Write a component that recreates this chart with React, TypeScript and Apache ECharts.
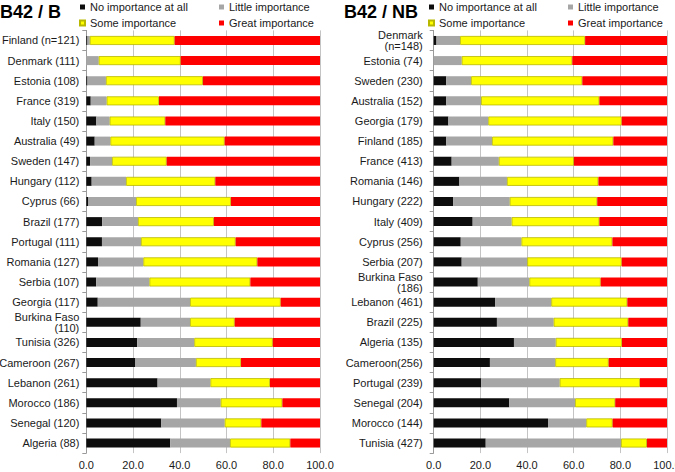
import React, { useEffect, useRef } from "react";
import * as echarts from "echarts";

const seriesNames = ["No importance at all", "Little importance", "Some importance", "Great importance"];
const colors = ["#0d0d0d", "#a6a6a6", "#ffff00", "#ff0000"];

const catB = [
  "Finland (n=121)", "Denmark (111)", "Estonia (108)", "France (319)", "Italy (150)",
  "Australia (49)", "Sweden (147)", "Hungary (112)", "Cyprus (66)", "Brazil (177)",
  "Portugal (111)", "Romania (127)", "Serbia (107)", "Georgia (117)", "Burkina Faso\n(110)",
  "Tunisia (326)", "Cameroon (267)", "Lebanon (261)", "Morocco (186)", "Senegal (120)", "Algeria (88)",
];
const noneB = [0.5, 0, 0.5, 1.9, 4.3, 3.6, 1.6, 2.3, 0.9, 6.8, 6.7, 5.0, 4.2, 4.9, 23.3, 21.8, 21.0, 30.5, 38.8, 32.1, 35.9];
const littleB = [1.0, 5.3, 7.9, 6.8, 5.7, 6.7, 9.4, 14.7, 20.4, 15.3, 16.7, 19.4, 22.8, 39.5, 21.1, 24.4, 25.9, 22.6, 18.7, 27.1, 25.6];
const someB = [36.3, 35.1, 41.5, 22.4, 23.8, 48.9, 23.4, 38.2, 40.6, 32.5, 40.5, 48.8, 43.2, 38.8, 19.1, 33.6, 19.3, 25.5, 26.4, 15.7, 25.8];
const greatB = [62.2, 59.6, 50.1, 68.9, 66.2, 40.8, 65.6, 44.8, 38.1, 45.4, 36.1, 26.8, 29.8, 16.8, 36.5, 20.2, 33.8, 21.4, 16.1, 25.1, 12.7];

const catNB = [
  "Denmark\n(n=148)", "Estonia (74)", "Sweden (230)", "Australia (152)", "Georgia (179)",
  "Finland (185)", "France (413)", "Romania (146)", "Hungary (222)", "Italy (409)",
  "Cyprus (256)", "Serbia (207)", "Burkina Faso\n(186)", "Lebanon (461)", "Brazil (225)",
  "Algeria (135)", "Cameroon(256)", "Portugal (239)", "Senegal (204)", "Morocco (144)", "Tunisia (427)",
];
const noneNB = [1.2, 0, 5.4, 5.4, 6.3, 5.4, 7.7, 11.0, 8.4, 16.7, 11.6, 12.0, 18.9, 26.3, 27.1, 34.4, 24.1, 20.4, 32.4, 49.0, 22.3];
const littleNB = [10.1, 12.0, 10.6, 14.9, 17.1, 19.6, 20.2, 20.4, 24.2, 16.7, 26.0, 28.1, 22.1, 24.1, 24.3, 17.9, 28.0, 33.6, 28.2, 16.4, 58.0];
const someNB = [53.6, 47.4, 47.7, 50.7, 57.2, 52.0, 32.2, 39.2, 37.5, 37.6, 39.0, 40.5, 30.6, 32.6, 32.0, 28.4, 22.9, 34.4, 17.2, 11.3, 11.1];
const greatNB = [35.1, 40.6, 36.3, 29.0, 19.4, 23.0, 39.9, 29.4, 29.9, 29.0, 23.4, 19.4, 28.4, 17.0, 16.6, 19.3, 25.0, 11.6, 22.2, 23.3, 8.6];

const xTicks = [0, 20, 40, 60, 80, 100];

const FONT = "'Liberation Sans', Arial, sans-serif";
const TEXT = "#1a1a1a";

export default function App() {
  const ref = useRef<HTMLDivElement>(null);
  useEffect(() => {
    if (!ref.current) return;
    const chart = echarts.init(ref.current, null, { renderer: "svg" });
    const dataB = [noneB, littleB, someB, greatB];
    const dataNB = [noneNB, littleNB, someNB, greatNB];

    const makeSeries = (data: number[][], idx: number, stack: string) =>
      data.map((d, i) => ({
        name: seriesNames[i],
        type: "bar",
        stack,
        xAxisIndex: idx,
        yAxisIndex: idx,
        data: d,
        barWidth: 9,
        itemStyle: {
          color: colors[i],
          borderColor: i === 2 ? "#b8b800" : undefined,
          borderWidth: i === 2 ? 0.8 : 0,
        },
        emphasis: { disabled: true },
      }));

    const xAxis = (gridIndex: number) => ({
      type: "value",
      gridIndex,
      min: 0,
      max: 100,
      interval: 20,
      axisLine: { show: false },
      axisTick: { show: false },
      splitLine: { show: true, lineStyle: { color: "#c4c4c4", width: 1 } },
      axisLabel: {
        fontSize: 11,
        fontFamily: FONT,
        color: TEXT,
        margin: 6,
        formatter: (v: number) => (xTicks.includes(v) ? v.toFixed(1) : ""),
      },
    });
    const yAxis = (gridIndex: number, cats: string[], margin: number) => ({
      type: "category",
      gridIndex,
      data: cats,
      inverse: true,
      axisLine: { show: true, lineStyle: { color: "#9a9a9a" } },
      axisTick: { show: true, length: 4, lineStyle: { color: "#9a9a9a" } },
      axisLabel: {
        fontSize: 11,
        fontFamily: FONT,
        color: TEXT,
        margin,
        lineHeight: 11,
        interval: 0,
      },
    });

    const legendBase = {
      orient: "vertical",
      icon: "rect",
      itemWidth: 5,
      itemHeight: 5,
      itemGap: 5,
      padding: 0,
      selectedMode: false,
      textStyle: { fontSize: 11, fontFamily: FONT, color: TEXT },
    };

    chart.setOption({
      animation: false,
      textStyle: { fontFamily: FONT },
      grid: [
        { left: 86.3, width: 233.7, top: 30.4, height: 422.7, outerBoundsMode: "none", containLabel: false },
        { left: 433.7, width: 233.3, top: 30.4, height: 422.7, outerBoundsMode: "none", containLabel: false },
      ],
      legend: [
        { ...legendBase, left: 79, top: 1.5, data: [seriesNames[0], seriesNames[2]] },
        { ...legendBase, left: 219, top: 1.5, data: [seriesNames[1], seriesNames[3]] },
        { ...legendBase, left: 428, top: 1.5, data: [seriesNames[0], seriesNames[2]] },
        { ...legendBase, left: 568, top: 1.5, data: [seriesNames[1], seriesNames[3]] },
      ],
      graphic: [
        {
          type: "text",
          x: 0,
          y: 12,
          style: { text: "B42 / B", fontSize: 18, fontWeight: "bold", fontFamily: FONT, fill: "#000", textVerticalAlign: "middle" },
        },
        {
          type: "text",
          x: 344,
          y: 12,
          style: { text: "B42 / NB", fontSize: 18, fontWeight: "bold", fontFamily: FONT, fill: "#000", textVerticalAlign: "middle" },
        },
      ],
      xAxis: [xAxis(0), xAxis(1)],
      yAxis: [yAxis(0, catB, 7), yAxis(1, catNB, 11)],
      series: [...makeSeries(dataB, 0, "b"), ...makeSeries(dataNB, 1, "nb")],
    });
    return () => chart.dispose();
  }, []);
  return <div ref={ref} style={{ width: 675, height: 472, position: "absolute", left: 0, top: 0, background: "#fff" }} />;
}
